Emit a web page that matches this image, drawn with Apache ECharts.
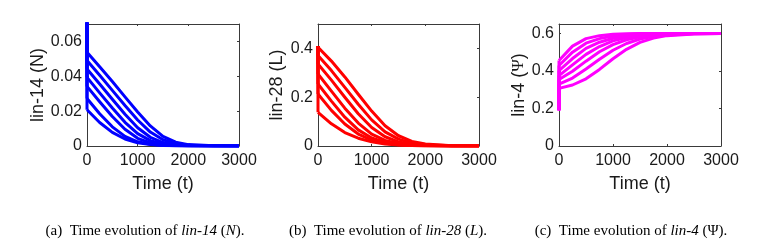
<!DOCTYPE html>
<html><head><meta charset="utf-8">
<script src="https://cdn.jsdelivr.net/npm/echarts@6/dist/echarts.min.js"></script>
<style>html,body{margin:0;padding:0;background:#fff}#c{width:774px;height:241px}</style>
</head><body><div id="c"></div>
<script>
// time points of the slow dynamics (after the fast initial transient at t = 0)
const timeT = [0, 250, 500, 750, 1000, 1250, 1500, 1750, 2000, 2500, 3000];

// initial conditions (value at t = 0 before the fast transient)
const lin14Init = 0.08;
const lin28Init = 0.41;
const lin4Init = 0.19;

// (a) lin-14 (N)
const lin14 = [
  [0.0538, 0.0455, 0.0370, 0.0282, 0.0195, 0.0115, 0.0055, 0.0022, 0.0008, 0.0001, 0],
  [0.0490, 0.0406, 0.0319, 0.0232, 0.0149, 0.0080, 0.0036, 0.0014, 0.0005, 0.0001, 0],
  [0.0442, 0.0356, 0.0268, 0.0182, 0.0105, 0.0050, 0.0020, 0.0008, 0.0003, 0.0001, 0],
  [0.0394, 0.0305, 0.0218, 0.0136, 0.0071, 0.0031, 0.0012, 0.0005, 0.0002, 0, 0],
  [0.0342, 0.0254, 0.0169, 0.0096, 0.0044, 0.0018, 0.0007, 0.0003, 0.0001, 0, 0],
  [0.0273, 0.0185, 0.0110, 0.0055, 0.0024, 0.0010, 0.0004, 0.0002, 0.0001, 0, 0],
  [0.0208, 0.0135, 0.0078, 0.0040, 0.0018, 0.0008, 0.0003, 0.0001, 0, 0, 0]
];
// (b) lin-28 (L)
const lin28 = [
  [0.405, 0.348, 0.283, 0.212, 0.143, 0.083, 0.042, 0.019, 0.008, 0.001, 0],
  [0.371, 0.309, 0.240, 0.171, 0.107, 0.058, 0.028, 0.012, 0.005, 0.001, 0],
  [0.336, 0.270, 0.200, 0.132, 0.076, 0.038, 0.017, 0.007, 0.003, 0.0005, 0],
  [0.295, 0.225, 0.155, 0.094, 0.049, 0.023, 0.010, 0.004, 0.002, 0.0003, 0],
  [0.254, 0.184, 0.118, 0.066, 0.033, 0.0145, 0.006, 0.0025, 0.001, 0.0002, 0],
  [0.213, 0.146, 0.090, 0.049, 0.024, 0.011, 0.005, 0.002, 0.001, 0.0002, 0],
  [0.138, 0.091, 0.055, 0.032, 0.017, 0.008, 0.004, 0.002, 0.001, 0.0002, 0]
];
// (c) lin-4 (Psi)
const lin4 = [
  [0.455, 0.532, 0.572, 0.588, 0.595, 0.598, 0.599, 0.600, 0.600, 0.600, 0.600],
  [0.429, 0.500, 0.548, 0.572, 0.586, 0.594, 0.598, 0.599, 0.600, 0.600, 0.600],
  [0.402, 0.466, 0.520, 0.553, 0.574, 0.587, 0.594, 0.598, 0.599, 0.600, 0.600],
  [0.375, 0.432, 0.488, 0.530, 0.560, 0.578, 0.589, 0.595, 0.598, 0.600, 0.600],
  [0.354, 0.398, 0.452, 0.502, 0.540, 0.566, 0.582, 0.591, 0.596, 0.599, 0.600],
  [0.330, 0.362, 0.410, 0.462, 0.510, 0.546, 0.570, 0.584, 0.592, 0.598, 0.600],
  [0.307, 0.325, 0.358, 0.408, 0.465, 0.515, 0.552, 0.575, 0.588, 0.597, 0.600]
];

const panels = [
  {curves: lin14, init: lin14Init, color: '#0000ff', yMax: 0.07, yInt: 0.02, yName: 'lin-14 (N)', gap: 40, grid: {left: 87, top: 24, width: 152, height: 122}},
  {curves: lin28, init: lin28Init, color: '#ff0000', yMax: 0.5, yInt: 0.2, yName: 'lin-28 (L)', gap: 32, grid: {left: 318, top: 24, width: 161, height: 122}},
  {curves: lin4, init: lin4Init, color: '#ff00ff', yMax: 0.65, yInt: 0.2, yName: 'lin-4 ({psi|Ψ})', gap: 31, grid: {left: 559, top: 24, width: 162, height: 122}}
];

const axisCol = '#3a3a3a';
const txtCol = '#1a1a1a';
const sans = 'Liberation Sans, Arial, sans-serif';
const plain = v => String(Math.round(v * 1000) / 1000);
const grid = [], xAxis = [], yAxis = [], series = [];
panels.forEach((p, i) => {
  grid.push(p.grid);
  const common = {
    axisLine: {show: true, onZero: false, lineStyle: {color: axisCol, width: 1}},
    axisTick: {show: true, inside: true, length: 2, lineStyle: {color: axisCol}},
    splitLine: {show: false}
  };
  xAxis.push(Object.assign({type: 'value', gridIndex: i, min: 0, max: 3000, interval: 1000, position: 'bottom',
    axisLabel: {fontSize: 16, color: txtCol, fontFamily: sans, margin: 7, formatter: plain},
    name: 'Time (t)', nameLocation: 'middle', nameGap: 29,
    nameTextStyle: {fontSize: 18, color: txtCol, fontFamily: sans}}, common));
  xAxis.push(Object.assign({type: 'value', gridIndex: i, min: 0, max: 3000, interval: 1000, position: 'top',
    axisLabel: {show: false}}, common));
  yAxis.push(Object.assign({type: 'value', gridIndex: i, min: 0, max: p.yMax, interval: p.yInt, position: 'left',
    axisLabel: {fontSize: 16, color: txtCol, fontFamily: sans, margin: 5, showMaxLabel: false, formatter: plain},
    name: p.yName, nameLocation: 'middle', nameGap: p.gap, nameRotate: 90,
    nameTextStyle: {fontSize: 18, color: txtCol, fontFamily: sans,
      rich: {psi: {fontSize: 17, fontFamily: 'Liberation Serif, serif', color: txtCol}}}}, common));
  yAxis.push(Object.assign({type: 'value', gridIndex: i, min: 0, max: p.yMax, interval: p.yInt, position: 'right',
    axisLabel: {show: false}}, common));
  p.curves.forEach(c => {
    // fast transient at t = 0: initial condition -> first slow value
    series.push({type: 'line', xAxisIndex: 2 * i, yAxisIndex: 2 * i,
      data: [[0, p.init], [0, c[0]]], showSymbol: false, silent: true,
      lineStyle: {color: p.color, width: 3}, clip: true});
    series.push({type: 'line', xAxisIndex: 2 * i, yAxisIndex: 2 * i,
      data: timeT.map((t, k) => [t, c[k]]),
      showSymbol: false, smooth: false, silent: true,
      lineStyle: {color: p.color, width: 3, join: 'round'}, clip: true});
  });
});

const serif = 'Liberation Serif, Times New Roman, serif';
const capRich = {n: {fontFamily: serif, fontSize: 15, color: '#000'}, i: {fontFamily: serif, fontSize: 15, fontStyle: 'italic', color: '#000'}};
const captions = [
  {x: 145, text: '{n|(a)  Time evolution of }{i|lin-14}{n| (}{i|N}{n|).}'},
  {x: 388, text: '{n|(b)  Time evolution of }{i|lin-28}{n| (}{i|L}{n|).}'},
  {x: 631, text: '{n|(c)  Time evolution of }{i|lin-4}{n| (Ψ).}'}
];

const chart = echarts.init(document.getElementById('c'), null, {renderer: 'canvas'});
chart.setOption({
  animation: false,
  backgroundColor: '#fff',
  grid, xAxis, yAxis, series,
  graphic: captions.map(c => ({type: 'text', x: c.x, y: 231,
    style: {text: c.text, rich: capRich, align: 'center', verticalAlign: 'middle'}}))
});
</script>
</body></html>
